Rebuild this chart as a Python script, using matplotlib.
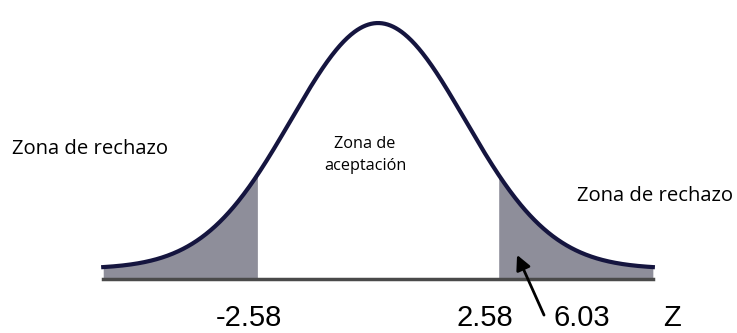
import numpy as np
import matplotlib
matplotlib.use("Agg")
import matplotlib.pyplot as plt

# Valores críticos y estadístico calculado
z_critico = 2.58
z_calculado = 6.03
etiquetas_eje = ["-2.58", "2.58", "6.03", "Z"]
zonas = ["Zona de rechazo", "Zona de\naceptación", "Zona de rechazo"]

# Forma del dibujo (ilustración, no a escala real)
sigma_dibujo = 1.87
extremo = 5.91
offset_cola = 0.04

x = np.linspace(-extremo, extremo, 600)
y = offset_cola + (1 - offset_cola) * np.exp(-x**2 / (2 * sigma_dibujo**2))

fig = plt.figure(figsize=(7.37, 3.33), dpi=100)
ax = fig.add_axes([0, 0, 1, 1])
ax.set_xlim(-8.13, 7.72)
ax.set_ylim(-0.211, 1.090)
ax.axis("off")

gris = "#8e8e9a"
ax.fill_between(x, 0, y, where=x <= -z_critico, color=gris, lw=0)
ax.fill_between(x, 0, y, where=x >= z_critico, color=gris, lw=0)
ax.plot(x, y, color="#15153f", lw=3)
ax.plot([-extremo, extremo], [0, 0], color="#4a4a4a", lw=2.5)

fuente = ["Open Sans", "DejaVu Sans"]
ax.text(-7.87, 0.508, zonas[0], ha="left", va="center", fontsize=14.6, family=fuente)
ax.text(-0.28, 0.484, zonas[1], ha="center", va="center", fontsize=11.7,
        family=fuente, linespacing=1.5)
ax.text(4.28, 0.324, zonas[2], ha="left", va="center", fontsize=14.6, family=fuente)

pos_etiquetas = [-2.77, 2.30, 4.39, 6.32]
for px, txt in zip(pos_etiquetas, etiquetas_eje):
    ax.text(px, -0.152, txt, ha="center", va="center", fontsize=21,
            family="Liberation Sans")

ax.annotate("", xy=(2.99, 0.094), xytext=(3.57, -0.141),
            arrowprops=dict(arrowstyle="-|>", color="black", lw=2,
                            mutation_scale=22, shrinkA=0, shrinkB=0))

fig.savefig("out.png", dpi=100)
